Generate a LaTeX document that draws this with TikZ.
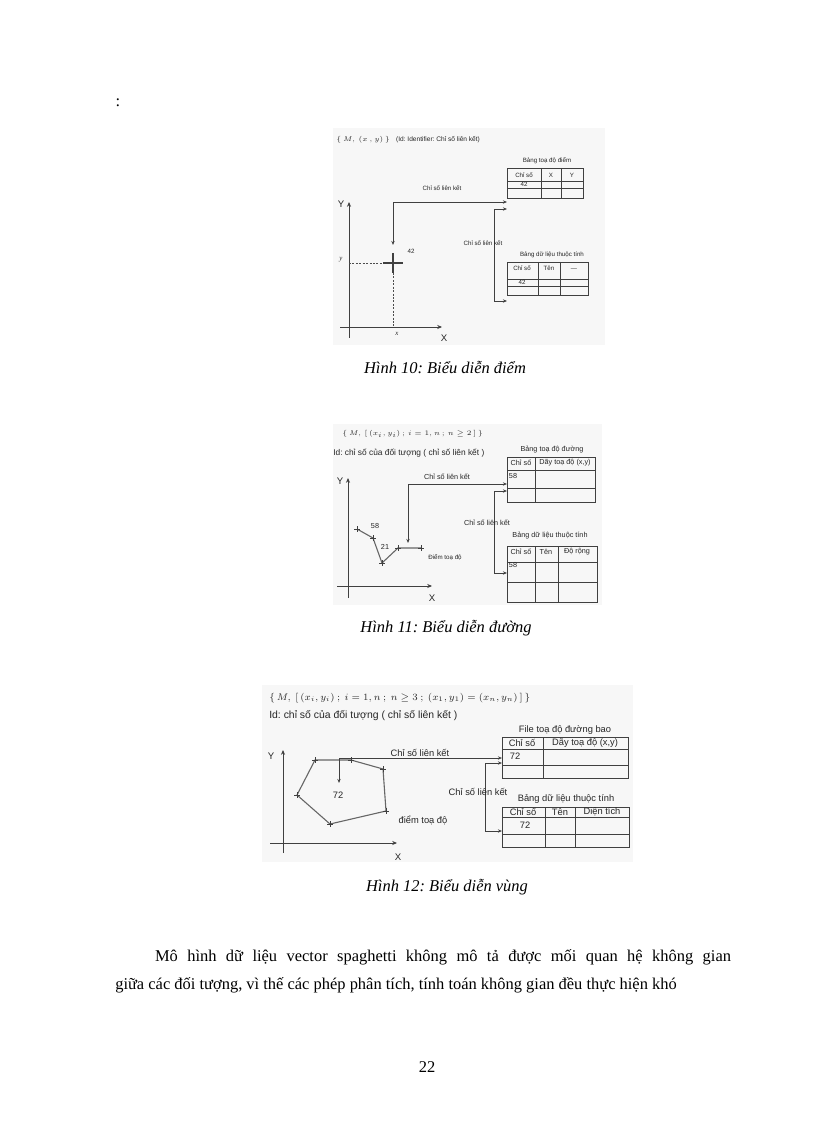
\documentclass[tikz,border=0pt]{standalone}
\usepackage{fontspec}
\setmainfont{Liberation Serif}
\setsansfont{Liberation Sans}
\usetikzlibrary{arrows.meta}
\frenchspacing

\tikzset{
  ln/.style={black!75, line width=0.5pt},
  link/.style={ln, {Stealth[length=3pt,width=2.4pt]}-{Stealth[length=3pt,width=2.4pt]}},
  guide/.style={black!70, line width=0.4pt, dashed, dash pattern=on 1.5pt off 1pt},
  axis/.style={ln, line width=0.7pt, -{Stealth[length=3.5pt,width=3pt]}},
  fa/.style={font=\sffamily\fontsize{4.5}{5}\selectfont, inner sep=0pt, black!85},
  fb/.style={font=\sffamily\fontsize{5.3}{6}\selectfont, inner sep=0pt, black!85},
  fc/.style={font=\sffamily\fontsize{6.8}{7.5}\selectfont, inner sep=0pt, black!85},
  axl/.style={font=\sffamily\fontsize{7}{8}\selectfont, inner sep=0pt, black!85},
  capt/.style={font=\itshape\fontsize{12}{14}\selectfont, inner sep=0pt},
  paper/.style={fill=black!3, draw=none}
}

\begin{document}
\begin{tikzpicture}[x=0.7292pt, y=-0.7292pt]
\useasboundingbox (0,0) rectangle (816,1123);
\fill[white] (0,0) rectangle (816,1123);

\node[inner sep=0pt, font=\fontsize{12}{14}\selectfont] (colon) at (118,103) {:};

%---- Hinh 10: diem
\fill[paper] (333,128) rectangle (605,345);
\node[fa, anchor=west] (hdA) at (336,140) {$\{\,M,\ (x\,,y)\,\}$\quad {\fontsize{4.8}{5}\selectfont (Id: Identifier: Chỉ số liên kết)}};
\draw[axis] (349,338) -- (349,202); % --- y axis
\draw[axis] (340,327) -- (442,327); % ---- x axis
\node[axl] (YA) at (341,204) {Y};
\node[axl] (XA) at (444,338) {X};
\coordinate (pt42) at (393,263);
\draw[guide] (349,263) -- (pt42);
\draw[guide] (393,273) -- (393,327);
\node[fa, font=\itshape\fontsize{5}{6}\selectfont] (yA) at (341,260) {y};
\node[fa, font=\itshape\fontsize{5}{6}\selectfont] (xA) at (397,334) {x};
\draw[ln, line width=1pt] (pt42) +(-10,0) -- +(10,0) (pt42) +(0,-10) -- +(0,10);
\node[fa] (n42) at (411,251) {42};
% tables
\node[fa] (ttA) at (547,161) {Bảng toạ độ điểm};
\draw[ln] (507,168) rectangle (583,198) (507,181) -- (583,181) (507,188) -- (583,188)
  (541,168) -- (541,198) (561,168) -- (561,198);
\node[fa] at (524,175) {Chỉ số};
\node[fa] at (551,175) {X};
\node[fa] at (572,175) {Y};
\node[fa] at (524,184.5) {42};
\node[fa] (ttB) at (552,255) {Bảng dữ liệu thuộc tính};
\draw[ln] (507,262) rectangle (588,295) (507,279) -- (588,279) (507,286) -- (588,286)
  (538,262) -- (538,295) (560,262) -- (560,295);
\node[fa] at (522,268) {Chỉ số};
\node[fa] at (549,268) {Tên};
\node[fa] at (574,270) {—};
\node[fa] at (522,282.5) {42};
% links
\coordinate (aA) at (393,245);
\coordinate (tA) at (507,202);
\coordinate (tA2) at (507,209);
\coordinate (tB) at (507,301);
\draw[link] (aA) |- (tA);
\draw[link] (tA2) -- ++(-13,0) |- (tB);
\node[fa] (lkA) at (442,188) {Chỉ số liên kết};
\node[fa] (lkB) at (483,243) {Chỉ số liên kết};
\node[capt] (cap10) at (445,368) {Hình 10: Biểu diễn điểm};

%---- Hinh 11: duong
\fill[paper] (333,424) rectangle (602,605);
\node[fb, anchor=west] (hdB) at (342,434) {$\{\,M,\,[\,(x_i,y_i)\,;\,i=1,n\,;\,n\geq 2\,]\,\}$};
\node[fb, anchor=west, font=\sffamily\fontsize{6.1}{7}\selectfont] (hdB2) at (333,453) {Id: chỉ số của đối tượng ( chỉ số liên kết )};
\draw[axis] (348,598) -- (348,478); % --- y axis
\draw[axis] (337,586) -- (432,586); % ---- x axis
\node[axl] (YB) at (340,481) {Y};
\node[axl] (XB) at (432,598) {X};
\coordinate (b1) at (357,529);
\coordinate (b2) at (373,538);
\coordinate (b3) at (382,563);
\coordinate (b4) at (398,548);
\coordinate (b5) at (421,548);
\draw[ln, line width=0.8pt, black!60] (b1) -- (b2) -- (b3) -- (b4) -- (b5);
\foreach \p in {b1,b2,b3,b4,b5}
  \draw[ln] (\p) +(-3,0) -- +(3,0) (\p) +(0,-3) -- +(0,3);
\node[fb] (n58) at (375,526) {58};
\node[fb] (n21) at (385,547) {21};
\node[fb, font=\sffamily\fontsize{4.5}{5}\selectfont] (ptB) at (445,557) {Điểm toạ độ};
\node[fb] (ttC) at (552,450) {Bảng toạ độ đường};
\draw[ln] (507,457) rectangle (595,502) (507,470) -- (595,470) (507,488) -- (595,488)
  (535,457) -- (535,502);
\node[fb] at (521,463) {Chỉ số};
\node[fb] at (565,463) {Dãy toạ độ (x,y)};
\node[fb] at (513,476) {58};
\node[fb] (ttD) at (550,536) {Bảng dữ liệu thuộc tính};
\draw[ln] (507,546) rectangle (597,602) (507,562) -- (597,562) (507,582) -- (597,582)
  (535,546) -- (535,602) (558,546) -- (558,602);
\node[fb] at (521,552) {Chỉ số};
\node[fb] at (546,552) {Tên};
\node[fb] at (577,552) {Độ rộng};
\node[fb] at (513,565) {58};
\coordinate (aB) at (408,543);
\coordinate (tC) at (507,484);
\coordinate (tC2) at (507,491);
\coordinate (tD) at (507,573);
\draw[link] (aB) |- (tC);
\draw[link] (tC2) -- ++(-13,0) |- (tD);
\node[fb] (lkC) at (447,477) {Chỉ số liên kết};
\node[fb] (lkD) at (487,523) {Chỉ số liên kết};
\node[capt] (cap11) at (446,628) {Hình 11: Biểu diễn đường};

%---- Hinh 12: vung
\fill[paper] (262,685) rectangle (633,862);
\node[fc, anchor=west] (hdC) at (269,698) {$\{\,M,\ [\,(x_i,y_i)\ ;\ i=1,n\ ;\ n\geq 3\ ;\ (x_1,y_1)=(x_n,y_n)\,]\,\}$};
\node[fc, anchor=west, font=\sffamily\fontsize{7.6}{8}\selectfont] (hdC2) at (269,716) {Id: chỉ số của đối tượng ( chỉ số liên kết )};
\draw[axis] (283,853) -- (283,750); % --- y axis
\draw[axis] (270,843) -- (397,843); % ---- x axis
\node[axl] (YC) at (271,756) {Y};
\node[axl] (XC) at (398,857) {X};
\coordinate (c1) at (315,760);
\coordinate (c2) at (351,760);
\coordinate (c3) at (383,769);
\coordinate (c4) at (386,811);
\coordinate (c5) at (330,824);
\coordinate (c6) at (297,795);
\draw[ln, line width=0.8pt, black!60] (c1) -- (c2) -- (c3) -- (c4) -- (c5) -- (c6) -- cycle;
\foreach \p in {c1,c2,c3,c4,c5,c6}
  \draw[ln] (\p) +(-3,0) -- +(3,0) (\p) +(0,-3) -- +(0,3);
\node[fc] (n72) at (338,795) {72};
\node[fc] (ptC) at (423,820) {điểm toạ độ};
\node[fc] (ttE) at (565,730) {File toạ độ đường bao};
\draw[ln] (502,737) rectangle (628,778) (502,749) -- (628,749) (502,765) -- (628,765)
  (543,737) -- (543,778);
\node[fc] at (522,743) {Chỉ số};
\node[fc] at (585,743) {Dãy toạ độ (x,y)};
\node[fc] at (515,756) {72};
\node[fc] (ttF) at (566,799) {Bảng dữ liệu thuộc tính};
\draw[ln] (502,807) rectangle (629,847) (502,817) -- (629,817) (502,834) -- (629,834)
  (545,807) -- (545,847) (575,807) -- (575,847);
\node[fc] at (523,812) {Chỉ số};
\node[fc] at (560,812) {Tên};
\node[fc] at (602,812) {Diện tích};
\node[fc] at (525,825) {72};
\coordinate (aC) at (339,783);
\coordinate (tE) at (502,758);
\coordinate (tE2) at (502,763);
\coordinate (tF) at (502,831);
\draw[link] (aC) |- (tE);
\draw[link] (tE2) -- ++(-17,0) |- (tF);
\node[fc] (lkE) at (420,753) {Chỉ số liên kết};
\node[fc] (lkF) at (478,792) {Chỉ số liên kết};
\node[capt] (cap12) at (447,887) {Hình 12: Biểu diễn vùng};

%---- body text
\node[anchor=north west, inner sep=0pt, text width=449pt, align=justify,
  font=\fontsize{12}{20.4}\selectfont] (body) at (115,949)
  {\parfillskip=0pt\hspace*{29pt}Mô hình dữ liệu vector spaghetti không mô tả được mối quan hệ không gian\linebreak
   giữa các đối tượng, vì thế các phép phân tích, tính toán không gian đều thực hiện khó};
\node[inner sep=0pt, font=\fontsize{12}{14}\selectfont] (pgno) at (427,1067) {22};
\end{tikzpicture}
\end{document}
